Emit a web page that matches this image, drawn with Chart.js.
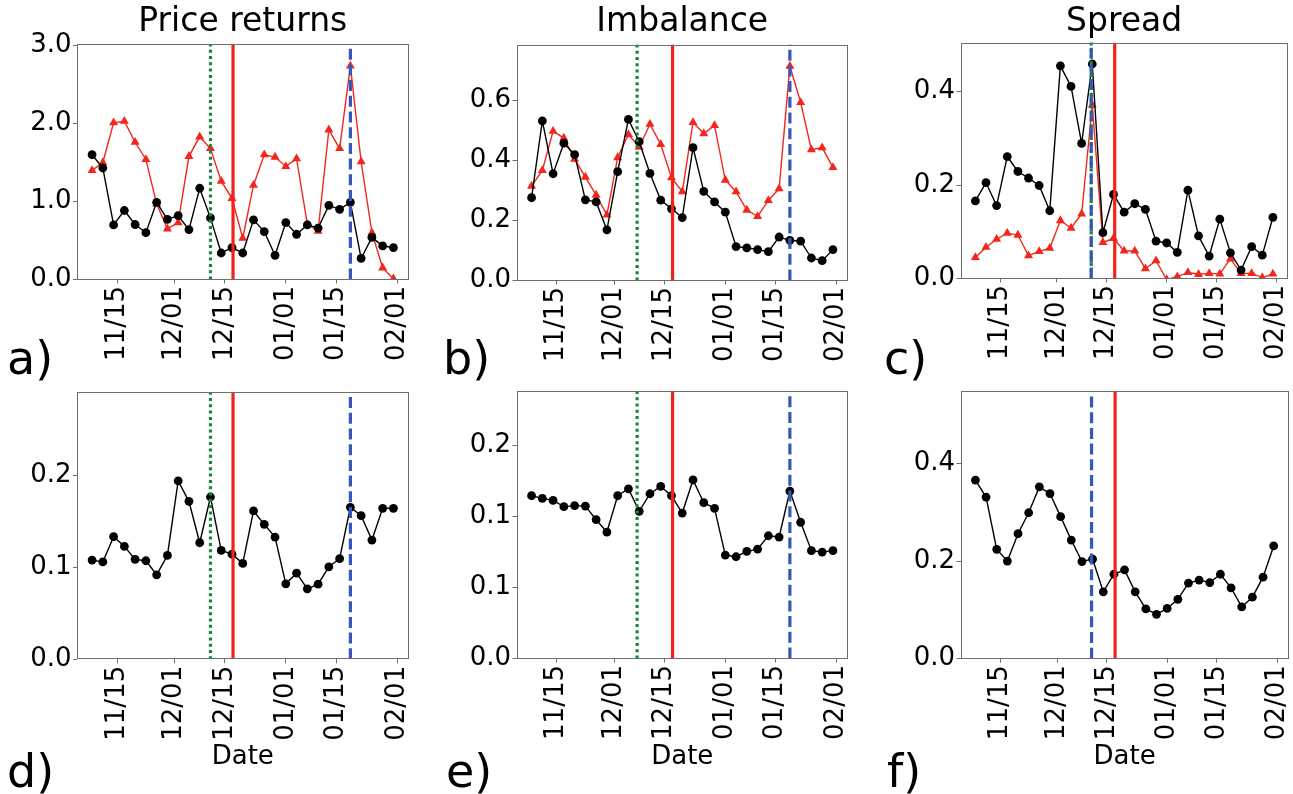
<!DOCTYPE html>
<html><head><meta charset="utf-8">
<script src="https://cdn.jsdelivr.net/npm/chart.js@4/dist/chart.umd.min.js"></script>
<style>
html,body{margin:0;padding:0;background:#fff;}
#wrap{position:relative;width:1293px;height:794px;overflow:hidden;background:#fff;}
#wrap canvas{position:absolute;}
.lbl{position:absolute;font-family:'DejaVu Sans',sans-serif;font-size:46px;line-height:46px;color:#000;white-space:nowrap;}
</style></head><body>
<div id="wrap">
  <div class="lbl" style="left:7px;top:335px">a)</div>
  <div class="lbl" style="left:443px;top:335px">b)</div>
  <div class="lbl" style="left:884px;top:335px">c)</div>
  <div class="lbl" style="left:7px;top:748px">d)</div>
  <div class="lbl" style="left:446px;top:748px">e)</div>
  <div class="lbl" style="left:887px;top:748px">f)</div>
</div>
<script>
// ---------------- DATA ----------------
const dates = ['2017-11-08','2017-11-11','2017-11-14','2017-11-17','2017-11-20','2017-11-23','2017-11-26','2017-11-29',
  '2017-12-02','2017-12-05','2017-12-08','2017-12-11','2017-12-14','2017-12-17','2017-12-20','2017-12-23','2017-12-26','2017-12-29',
  '2018-01-01','2018-01-04','2018-01-07','2018-01-10','2018-01-13','2018-01-16','2018-01-19','2018-01-22','2018-01-25','2018-01-28','2018-01-31'];
const xTickDates = ['2017-11-15','2017-12-01','2017-12-15','2018-01-01','2018-01-15','2018-02-01'];
const xTickLabels = ['11/15','12/01','12/15','01/01','01/15','02/01'];

const priceBlack = [1.60,1.43,0.70,0.885,0.705,0.60,0.99,0.77,0.82,0.64,1.17,0.79,0.34,0.41,0.34,0.765,0.615,0.31,0.73,0.58,0.70,0.66,0.95,0.90,0.99,0.27,0.54,0.43,0.41];
const priceRed   = [1.40,1.50,2.01,2.03,1.76,1.54,0.97,0.65,0.73,1.58,1.83,1.68,1.26,1.04,0.53,1.21,1.60,1.57,1.45,1.55,0.71,0.62,1.92,1.68,2.74,1.51,0.60,0.15,0.01];
const imbBlack   = [0.276,0.532,0.356,0.458,0.42,0.269,0.262,0.169,0.363,0.537,0.463,0.357,0.268,0.239,0.21,0.443,0.297,0.262,0.228,0.113,0.109,0.103,0.096,0.145,0.134,0.131,0.075,0.066,0.103];
const imbRed     = [0.315,0.367,0.498,0.475,0.405,0.345,0.285,0.219,0.41,0.487,0.445,0.521,0.454,0.343,0.296,0.527,0.49,0.517,0.335,0.296,0.235,0.214,0.267,0.306,0.715,0.594,0.436,0.443,0.377];
const spreadBlack= [0.166,0.205,0.156,0.261,0.229,0.215,0.199,0.145,0.455,0.411,0.289,0.459,0.098,0.18,0.142,0.16,0.148,0.08,0.076,0.056,0.189,0.091,0.048,0.127,0.055,0.018,0.068,0.05,0.131];
const spreadRed  = [0.045,0.067,0.084,0.097,0.093,0.049,0.058,0.065,0.124,0.108,0.138,0.371,0.077,0.086,0.059,0.059,0.021,0.038,-0.002,0.004,0.013,0.009,0.011,0.01,0.042,0.011,0.011,0.002,0.01];
const priceResid = [0.108,0.106,0.1335,0.123,0.1087,0.1073,0.092,0.1131,0.1942,0.172,0.1269,0.1767,0.1185,0.1145,0.1044,0.1615,0.1469,0.1331,0.0822,0.0938,0.0767,0.0818,0.1007,0.1095,0.1655,0.1564,0.1298,0.1644,0.1644];
const imbResid   = [0.1147,0.1128,0.1114,0.107,0.1077,0.1074,0.0978,0.0891,0.1147,0.1196,0.1037,0.1161,0.1213,0.1147,0.1025,0.1258,0.1098,0.1058,0.0729,0.0717,0.0755,0.0771,0.0865,0.0856,0.118,0.096,0.076,0.075,0.076];
const spreadResid= [0.366,0.331,0.224,0.2,0.256,0.299,0.352,0.338,0.291,0.243,0.199,0.204,0.137,0.173,0.182,0.137,0.102,0.091,0.103,0.1215,0.155,0.161,0.156,0.173,0.145,0.106,0.126,0.167,0.231];

const yTicksA = [0,1,2,3];          const yLabelsA = ['0.0','1.0','2.0','3.0'];
const yTicksB = [0,0.2,0.4,0.6];    const yLabelsB = ['0.0','0.2','0.4','0.6'];
const yTicksC = [0,0.2,0.4];        const yLabelsC = ['0.0','0.2','0.4'];
const yTicksD = [0,0.1,0.2];        const yLabelsD = ['0.0','0.1','0.2'];
const yTicksE = [0,0.05,0.10,0.15]; const yLabelsE = ['0.0','0.1','0.1','0.2'];
const yTicksF = [0,0.2,0.4];        const yLabelsF = ['0.0','0.2','0.4'];
const yMaxA = 3.02, yMaxB = 0.787, yMaxC = 0.505, yMaxD = 0.291, yMaxE = 0.1885, yMaxF = 0.549;

const eventsA = [{kind:'green', date:'2017-12-11T00:00:00Z'},{kind:'red', date:'2017-12-17T07:00:00Z'},{kind:'blue', date:'2018-01-19T00:00:00Z'}];
const eventsB = [{kind:'green', date:'2017-12-07T10:00:00Z'},{kind:'red', date:'2017-12-17T07:00:00Z'},{kind:'blue', date:'2018-01-19T00:00:00Z'}];
const eventsC = [{kind:'green', date:'2017-12-10T17:00:00Z'},{kind:'red', date:'2017-12-17T08:00:00Z'},{kind:'blue', date:'2017-12-10T17:00:00Z'}];
const eventsF = [{kind:'red', date:'2017-12-17T08:00:00Z'},{kind:'blue', date:'2017-12-10T17:00:00Z'}];

// ---------------- STYLE / LAYOUT ----------------
const origin = Date.parse('2017-11-01T00:00:00Z');
const toDay = s => (Date.parse(s.length === 10 ? s + 'T00:00:00Z' : s) - origin) / 864e5;
const X_MIN = 2.8, X_MAX = 95.2;
const lineStyles = {
  green:{color:'#12883a', dash:[3,3.3], order:2},
  red:{color:'#f2231b', dash:[], order:1},
  blue:{color:'#3657b8', dash:[11,4.7], order:0}
};
const FRAME = '#6e6e6e';
Chart.defaults.font.family = "'DejaVu Sans', sans-serif";
Chart.defaults.color = '#000';

const panels = [
  {x:0,   y:0,   w:430, h:385, area:[77,44,408.5,279.5],   title:'Price returns', black:priceBlack, red:priceRed, yMax:yMaxA, yTicks:yTicksA, yLabels:yLabelsA, events:eventsA},
  {x:430, y:0,   w:442, h:385, area:[516.5,44.5,848,280.5], title:'Imbalance', black:imbBlack, red:imbRed, yMax:yMaxB, yTicks:yTicksB, yLabels:yLabelsB, events:eventsB},
  {x:872, y:0,   w:421, h:385, area:[960.5,42.5,1292,278.5], title:'Spread', black:spreadBlack, red:spreadRed, yMax:yMaxC, yTicks:yTicksC, yLabels:yLabelsC, events:eventsC},
  {x:0,   y:385, w:430, h:409, area:[77,392,408.5,659.3],   xTitle:'Date', black:priceResid, yMax:yMaxD, yTicks:yTicksD, yLabels:yLabelsD, events:eventsA},
  {x:430, y:385, w:442, h:409, area:[516.5,391,848,658.5],  xTitle:'Date', black:imbResid, yMax:yMaxE, yTicks:yTicksE, yLabels:yLabelsE, events:eventsB},
  {x:872, y:385, w:421, h:409, area:[960.5,390.7,1292,658.7], xTitle:'Date', black:spreadResid, yMax:yMaxF, yTicks:yTicksF, yLabels:yLabelsF, events:eventsF}
];

const framePlugin = {
  id:'frame',
  afterDatasetsDraw(chart){
    const {ctx, chartArea:a} = chart;
    ctx.save();
    ctx.strokeStyle = FRAME; ctx.lineWidth = 1;
    const l = Math.round(a.left)+0.5, t = Math.round(a.top)+0.5, r = Math.round(a.right)-0.5, b = Math.round(a.bottom)-0.5;
    ctx.strokeRect(l, t, r-l, b-t);
    ctx.restore();
  }
};

const wrap = document.getElementById('wrap');
panels.forEach(p => {
  const cv = document.createElement('canvas');
  cv.width = p.w; cv.height = p.h;
  cv.style.left = p.x + 'px'; cv.style.top = p.y + 'px';
  cv.style.width = p.w + 'px'; cv.style.height = p.h + 'px';
  wrap.insertBefore(cv, wrap.firstChild);
  const [aL, aT, aR, aB] = p.area;
  const yAxisW = aL - p.x;
  const padRight = p.x + p.w - aR;
  const xAxisH = p.y + p.h - aB;
  const titleTop = 3, titleLH = 33*1.2;
  const titleBottom = p.title ? (aT - p.y - titleTop - titleLH) : 0;
  const padTop = p.title ? 0 : (aT - p.y);

  const datasets = [];
  p.events.forEach(ev => {
    const st = lineStyles[ev.kind];
    const d = toDay(ev.date);
    datasets.push({data:[{x:d,y:0},{x:d,y:p.yMax}], borderColor:st.color, borderWidth:3.2, borderDash:st.dash,
      borderCapStyle:'butt', pointRadius:0, order:st.order});
  });
  datasets.push({data:p.black.map((v,i)=>({x:toDay(dates[i]), y:v})), borderColor:'#000', backgroundColor:'#000',
    borderWidth:1.4, pointRadius:4.4, pointStyle:'circle', pointBorderWidth:0, pointBackgroundColor:'#000', order:10});
  if (p.red) datasets.push({data:p.red.map((v,i)=>({x:toDay(dates[i]), y:v})), borderColor:'#f2261c', backgroundColor:'#f2261c',
    borderWidth:1.4, pointRadius:5.2, pointStyle:'triangle', pointBorderWidth:0, pointBackgroundColor:'#f2261c', order:11});

  new Chart(cv, {
    type:'line',
    data:{datasets},
    plugins:[framePlugin],
    options:{
      responsive:false, animation:false, devicePixelRatio:1,
      layout:{padding:{left:0, right:padRight, top:padTop, bottom:0}},
      elements:{line:{tension:0}},
      plugins:{
        legend:{display:false}, tooltip:{enabled:false},
        title:{display:!!p.title, fullSize:false, text:p.title||'', color:'#000', font:{size:33, weight:'normal'}, padding:{top:titleTop, bottom:titleBottom}}
      },
      scales:{
        x:{type:'linear', min:X_MIN, max:X_MAX,
          afterBuildTicks:s=>{ s.ticks = xTickDates.map(d=>({value:toDay(d)})); },
          ticks:{autoSkip:false, minRotation:90, maxRotation:90, padding:2.5, color:'#000', font:{size:26},
            callback:(v,i)=>xTickLabels[i]},
          grid:{drawOnChartArea:false, drawTicks:true, tickLength:4, color:FRAME, lineWidth:1},
          border:{display:false},
          title:p.xTitle ? {display:true, text:p.xTitle, color:'#000', font:{size:26}, padding:{top:0, bottom:21}} : {display:false},
          afterFit:s=>{ s.height = xAxisH; s.paddingLeft = 0; s.paddingRight = 0; }
        },
        y:{type:'linear', min:0, max:p.yMax,
          afterBuildTicks:s=>{ s.ticks = p.yTicks.map(v=>({value:v})); },
          ticks:{padding:1.5, color:'#000', font:{size:26}, callback:(v,i)=>p.yLabels[i]},
          grid:{drawOnChartArea:false, drawTicks:true, tickLength:4, color:FRAME, lineWidth:1},
          border:{display:false},
          afterFit:s=>{ s.width = yAxisW; s.paddingTop = 0; s.paddingBottom = 0; }
        }
      }
    }
  });
});
</script>
</body></html>
